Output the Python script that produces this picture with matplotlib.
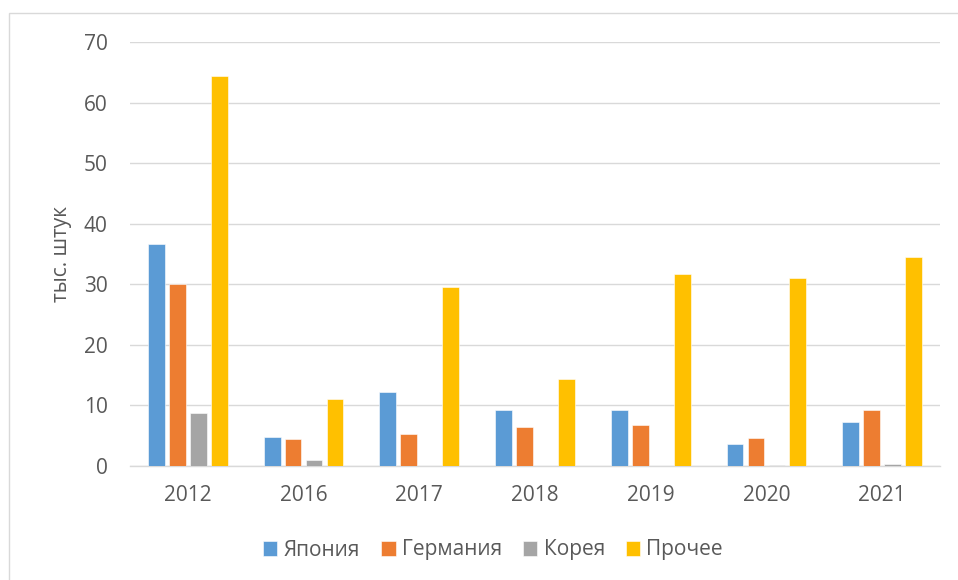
import numpy as np
import matplotlib
matplotlib.use("Agg")
import matplotlib.pyplot as plt
from matplotlib.patches import Rectangle

plt.rcParams['font.family'] = ['Open Sans', 'DejaVu Sans']

# data
years = ['2012', '2016', '2017', '2018', '2019', '2020', '2021']
series = ['Япония', 'Германия', 'Корея', 'Прочее']
japan = [36.6, 4.8, 12.2, 9.3, 9.2, 3.6, 7.3]
germany = [30.1, 4.4, 5.3, 6.5, 6.8, 4.6, 9.3]
korea = [8.7, 1.0, 0.0, 0.0, 0.05, 0.1, 0.25]
other = [64.4, 11.1, 29.5, 14.4, 31.7, 31.1, 34.5]

colors = ['#5B9BD5', '#ED7D31', '#A5A5A5', '#FFC000']
text_col = '#595959'
grid_col = '#D9D9D9'

W, H = 958, 580
fig = plt.figure(figsize=(W / 100, H / 100), dpi=100)
ax = fig.add_axes([130 / W, 1 - 466 / H, 810 / W, 424 / H])

x = np.arange(len(years))
bw = 0.145
pitch = 0.181
for i, (name, vals) in enumerate(zip(series, [japan, germany, korea, other])):
    ax.bar(x + (i - 1.5) * pitch, vals, width=bw, color=colors[i],
           edgecolor='white', linewidth=0.4, label=name, zorder=3)

ax.set_xlim(-0.5, len(years) - 0.5)
ax.set_ylim(0, 70)
ax.set_yticks(np.arange(0, 71, 10))
ax.set_xticks(x)
ax.set_xticklabels(years)
ax.yaxis.grid(True, color=grid_col, linewidth=1.0, zorder=0)
ax.set_axisbelow(True)

for s in ['top', 'right', 'left']:
    ax.spines[s].set_visible(False)
ax.spines['bottom'].set_color(grid_col)
ax.spines['bottom'].set_linewidth(1.0)
ax.tick_params(axis='both', length=0, colors=text_col, labelsize=15)
ax.tick_params(axis='y', pad=16)
ax.tick_params(axis='x', pad=14)

ax.set_ylabel('тыс. штук', fontsize=15, color=text_col)
ax.yaxis.set_label_coords(-0.072, 0.5)

fig.legend(loc='center', bbox_to_anchor=(493 / W, 1 - 550 / H), ncol=4,
           frameon=False, fontsize=15, handlelength=0.7, handleheight=0.7,
           handletextpad=0.3, columnspacing=1.0, labelcolor=text_col)

# outer chart frame (runs past the right and bottom edges)
fig.patches.append(Rectangle((9 / W, -0.1), 1.2, (H - 13) / H + 0.1,
                             transform=fig.transFigure, fill=False,
                             edgecolor=grid_col, linewidth=1.0))

fig.savefig('out.png', dpi=100)
